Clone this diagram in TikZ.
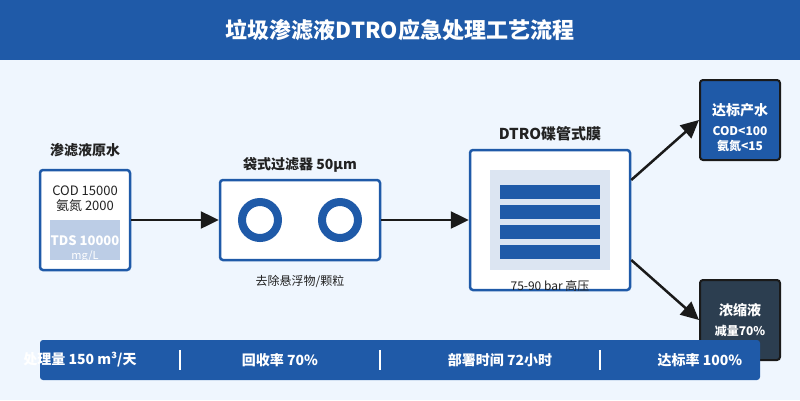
\documentclass[tikz,border=0pt]{standalone}
\usepackage{fontspec}
\setmainfont{Noto Sans CJK SC}
\usetikzlibrary{arrows.meta,calc}
\definecolor{mainblue}{HTML}{1F5AA8}
\definecolor{bgblue}{HTML}{EFF6FE}
\definecolor{lightin}{HTML}{BCCDE6}
\definecolor{lightin2}{HTML}{DCE5F2}
\definecolor{darkslate}{HTML}{2C3E50}
\definecolor{txt}{HTML}{222222}
\definecolor{edgedark}{HTML}{1A1A1A}
\tikzset{
  procbox/.style={draw=mainblue,line width=2.5pt,fill=white,rounded corners=3pt,inner sep=0pt},
  outbox/.style={draw=edgedark,line width=2pt,rounded corners=3pt,inner sep=0pt},
  lbl/.style={font=\bfseries\fontsize{14}{16}\selectfont,text=txt},
  body/.style={font=\fontsize{12}{14}\selectfont,text=txt},
  wtext/.style={text=white,font=\bfseries\fontsize{12}{14}\selectfont},
  flow/.style={line width=2.5pt,draw=edgedark,-{Triangle[length=18pt,width=17pt]}},
  ring/.style={draw=mainblue,line width=8pt},
  membar/.style={fill=mainblue},
  sep/.style={draw=white,line width=2pt}
}
\begin{document}
\begin{tikzpicture}[x=1pt,y=-1pt]
\useasboundingbox (0,0) rectangle (800,400);
\fill[bgblue] (0,0) rectangle (800,400);
% title
\node[fill=mainblue,minimum width=800pt,minimum height=60pt,inner sep=0pt] (titlebar) at (400,30) {};
\node[text=white,font=\bfseries\fontsize{22}{26}\selectfont] (title) at (400,30) {垃圾渗滤液DTRO应急处理工艺流程};
% source
\node[procbox,minimum width=90pt,minimum height=100pt] (src) at (85,220) {};
\node[lbl] (srclbl) at (85,150) {渗滤液原水};
\node[body,font=\fontsize{13}{15}\selectfont] (src1) at (85,191) {COD 15000};
\node[body,font=\fontsize{13}{15}\selectfont] (src2) at (85,206) {氨氮 2000};
\node[fill=lightin,minimum width=70pt,minimum height=40pt,inner sep=0pt] (srcin) at (85,240) {};
\node[wtext,font=\bfseries\fontsize{13}{15}\selectfont] (tds) at (85,241) {TDS 10000};
\node[text=white,font=\fontsize{11}{13}\selectfont] (mgl) at (85,257) {mg/L};
% filter
\node[procbox,minimum width=160pt,minimum height=80pt] (filt) at (300,220) {};
\node[lbl,font=\bfseries\fontsize{14}{16}\selectfont] (filtlbl) at (300,165) {袋式过滤器 50μm};
\draw[ring] (260,220) circle (18pt);
\draw[ring] (340,220) circle (18pt);
\node[body] (filtnote) at (300,281) {去除悬浮物/颗粒};
% dtro
\node[procbox,minimum width=160pt,minimum height=140pt] (dtro) at (550,220) {};
\node[lbl,font=\bfseries\fontsize{15}{17}\selectfont] (dtrolbl) at (550,134) {DTRO碟管式膜};
\node[fill=lightin2,minimum width=120pt,minimum height=100pt,inner sep=0pt] (dtroin) at (550,220) {};
\foreach \yy in {185,205,225,245} \fill[membar] (500,\yy) rectangle (600,\yy+14);
\node[body] (dtronote) at (550,286) {75-90 bar 高压};
% outputs
\node[outbox,fill=mainblue,minimum width=80pt,minimum height=80pt] (out1) at (740,120) {};
\node[wtext,font=\bfseries\fontsize{14}{16}\selectfont] (out1a) at (740,110) {达标产水};
\node[wtext] (out1b) at (740,131) {COD<100};
\node[wtext] (out1c) at (740,146) {氨氮<15};
\node[outbox,fill=darkslate,minimum width=80pt,minimum height=80pt] (out2) at (740,320) {};
\node[wtext,font=\bfseries\fontsize{14}{16}\selectfont] (out2a) at (740,310) {浓缩液};
\node[wtext] (out2b) at (740,331) {减量70\%};
% arrows
\draw[flow] (src.east) -- (filt.west);
\draw[flow] (filt.east) -- (dtro.west);
\draw[flow] ([yshift=40pt]dtro.east) -- (out1.west);
\draw[flow] ([yshift=-40pt]dtro.east) -- (out2.west);
% bottom bar
\node[fill=mainblue,rounded corners=3pt,minimum width=720pt,minimum height=40pt,inner sep=0pt] (bar) at (400,360) {};
\node[wtext,font=\bfseries\fontsize{14}{16}\selectfont] (s1) at (80,360) {处理量 150 m³/天};
\node[wtext,font=\bfseries\fontsize{14}{16}\selectfont] (s2) at (280,360) {回收率 70\%};
\node[wtext,font=\bfseries\fontsize{14}{16}\selectfont] (s3) at (500,360) {部署时间 72小时};
\node[wtext,font=\bfseries\fontsize{14}{16}\selectfont] (s4) at (700,360) {达标率 100\%};
\coordinate (d1a) at (180,350); \coordinate (d1b) at (180,370);
\coordinate (d2a) at (380,350); \coordinate (d2b) at (380,370);
\coordinate (d3a) at (600,350); \coordinate (d3b) at (600,370);
\draw[sep] (d1a) -- (d1b);
\draw[sep] (d2a) -- (d2b);
\draw[sep] (d3a) -- (d3b);
\end{tikzpicture}
\end{document}
